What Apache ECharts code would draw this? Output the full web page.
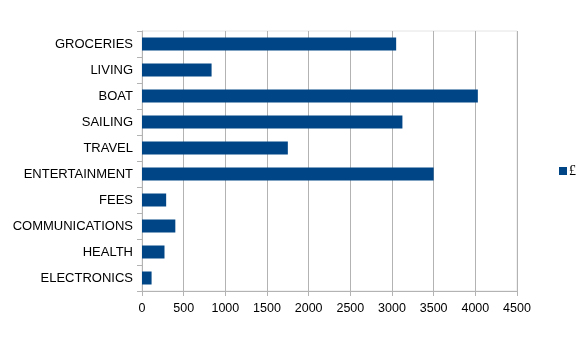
<!DOCTYPE html>
<html>
<head>
<meta charset="utf-8">
<script src="https://cdn.jsdelivr.net/npm/echarts@6/dist/echarts.min.js"></script>
<style>
  html, body { margin: 0; padding: 0; background: #fff; }
  #chart { width: 586px; height: 343px; }
</style>
</head>
<body>
<div id="chart"></div>
<script>
// Spending categories, top to bottom
const categories = ['GROCERIES', 'LIVING', 'BOAT', 'SAILING', 'TRAVEL', 'ENTERTAINMENT', 'FEES', 'COMMUNICATIONS', 'HEALTH', 'ELECTRONICS'];
// Amount spent per category (£)
const amounts = [3050, 835, 4030, 3125, 1750, 3500, 290, 400, 270, 115];
const seriesName = '£';
const xTicks = [0, 500, 1000, 1500, 2000, 2500, 3000, 3500, 4000, 4500];

const chart = echarts.init(document.getElementById('chart'), null, { renderer: 'canvas' });
const lineColor = '#b3b3b3';

chart.setOption({
  backgroundColor: '#ffffff',
  animation: false,
  textStyle: { fontFamily: 'Liberation Sans, Arial, sans-serif' },
  grid: {
    left: 142, right: 69, top: 31, bottom: 52,
    show: true, borderColor: '#e4e4e4', borderWidth: 1, backgroundColor: 'transparent'
  },
  legend: {
    data: [seriesName],
    orient: 'vertical',
    left: 559, top: 164,
    padding: 0,
    itemWidth: 8, itemHeight: 8, itemGap: 4,
    icon: 'rect',
    textStyle: { fontFamily: 'Liberation Serif, serif', fontSize: 14, color: '#000', padding: [0, 0, 0, -3] }
  },
  xAxis: {
    type: 'value',
    min: xTicks[0],
    max: xTicks[xTicks.length - 1],
    interval: 500,
    axisLine: { show: true, lineStyle: { color: lineColor } },
    axisTick: { show: true, length: 5, lineStyle: { color: lineColor } },
    axisLabel: { color: '#000', fontSize: 12.5, margin: 11, formatter: v => String(v) },
    splitLine: { show: true, lineStyle: { color: lineColor } }
  },
  yAxis: {
    type: 'category',
    data: categories,
    inverse: true,
    axisLine: { show: true, lineStyle: { color: lineColor } },
    axisTick: { show: true, length: 5, alignWithLabel: false, lineStyle: { color: lineColor } },
    axisLabel: { color: '#000', fontSize: 13, margin: 9 },
    splitLine: { show: false }
  },
  series: [{
    name: seriesName,
    type: 'bar',
    data: amounts,
    barWidth: '50%',
    itemStyle: { color: '#004586' }
  }]
});
</script>
</body>
</html>
